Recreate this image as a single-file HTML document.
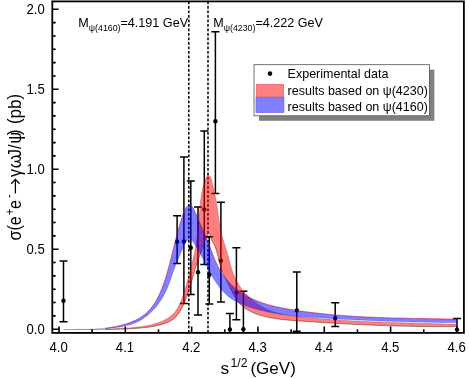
<!DOCTYPE html>
<html><head><meta charset="utf-8"><title>plot</title>
<style>html,body{margin:0;padding:0;background:#fff;}svg{display:block;}text{font-family:"Liberation Sans",sans-serif;fill:#000;}</style></head><body>
<svg width="469" height="379" viewBox="0 0 469 379" style="will-change:transform">
<rect x="0" y="0" width="469" height="379" fill="#fff"/>
<line x1="188.8" y1="1.4" x2="188.8" y2="332.9" stroke="#000" stroke-width="1.5" stroke-dasharray="2.9 1.6"/>
<line x1="208.0" y1="1.4" x2="208.0" y2="332.9" stroke="#000" stroke-width="1.5" stroke-dasharray="2.9 1.6"/>
<g stroke="#000" stroke-width="1.5" fill="none">
<path d="M63.5 260.9V321.8M59.5 260.9H67.5M59.5 321.8H67.5"/>
<path d="M177.1 215.7V263.6M173.1 215.7H181.1M173.1 263.6H181.1"/>
<path d="M183.9 156.9V303.5M179.9 156.9H187.9M179.9 303.5H187.9"/>
<path d="M190.8 180.9V294.6M186.8 180.9H194.8M186.8 294.6H194.8"/>
<path d="M198.0 206.9V315.0M194.0 206.9H202.0M194.0 315.0H202.0"/>
<path d="M204.3 131.0V264.4M200.3 131.0H208.3M200.3 264.4H208.3"/>
<path d="M209.3 236.8V303.9M205.3 236.8H213.3M205.3 303.9H213.3"/>
<path d="M215.4 31.7V193.4M211.4 31.7H219.4M211.4 193.4H219.4"/>
<path d="M220.9 202.3V302.1M216.9 202.3H224.9M216.9 302.1H224.9"/>
<path d="M229.9 313.4V332.9M225.9 313.4H233.9"/>
<path d="M236.4 247.8V319.7M232.4 247.8H240.4M232.4 319.7H240.4"/>
<path d="M243.4 291.3V332.9M239.4 291.3H247.4"/>
<path d="M296.8 272.0V331.3M292.8 272.0H300.8M292.8 331.3H300.8"/>
<path d="M335.2 302.7V326.5M331.2 302.7H339.2M331.2 326.5H339.2"/>
<path d="M457.0 318.4V332.9M453.0 318.4H461.0"/>
</g>
<g fill="#000">
<circle cx="63.5" cy="300.8" r="2.2"/>
<circle cx="177.1" cy="241.8" r="2.2"/>
<circle cx="183.9" cy="241.4" r="2.2"/>
<circle cx="190.8" cy="247.7" r="2.2"/>
<circle cx="198.0" cy="272.3" r="2.2"/>
<circle cx="204.3" cy="209.4" r="2.2"/>
<circle cx="209.3" cy="274.8" r="2.2"/>
<circle cx="215.4" cy="121.3" r="2.2"/>
<circle cx="220.9" cy="260.8" r="2.2"/>
<circle cx="229.9" cy="329.4" r="2.2"/>
<circle cx="236.4" cy="292.6" r="2.2"/>
<circle cx="243.4" cy="329.3" r="2.2"/>
<circle cx="296.8" cy="310.4" r="2.2"/>
<circle cx="335.2" cy="318.3" r="2.2"/>
<circle cx="457.0" cy="329.6" r="2.2"/>
</g>
<path d="M63.8 329.55L85 329.45L104 329.2" fill="none" stroke="#e02040" stroke-opacity="0.8" stroke-width="0.7"/>
<path d="M105.3 329.5L107.6 329.4L110.0 329.4L110.0 329.4L112.3 329.3L114.6 329.3L116.9 329.2L119.2 329.2L121.5 329.1L123.8 329.0L124.9 328.9L126.1 328.9L128.4 328.8L130.7 328.7L133.0 328.5L135.3 328.4L137.6 328.2L137.7 328.2L139.9 328.0L142.2 327.8L144.5 327.6L146.8 327.4L147.8 327.2L149.0 327.1L151.3 326.8L153.6 326.4L154.0 326.3L155.9 325.9L158.1 325.4L160.1 325.0L160.4 324.9L162.7 324.2L164.9 323.5L165.7 323.2L167.0 322.7L169.1 321.7L169.5 321.5L171.1 320.6L173.0 319.4L174.2 318.5L174.8 318.0L176.4 316.4L177.8 314.6L178.0 314.4L179.2 312.8L180.4 310.8L180.8 310.0L181.5 308.8L182.6 306.7L183.6 304.6L183.7 304.2L184.5 302.4L185.4 300.2L185.7 299.5L186.2 298.1L187.0 295.9L187.6 294.3L187.8 293.7L188.5 291.5L189.0 289.9L189.2 289.3L189.9 287.1L190.5 284.9L191.2 282.7L191.7 281.0L191.8 280.5L192.5 278.3L193.1 276.1L193.7 273.9L194.4 271.7L194.8 270.0L195.0 269.5L195.7 267.3L196.4 265.1L197.1 262.9L197.4 262.0L197.8 260.7L198.6 258.6L199.4 256.4L199.5 256.1L200.2 254.2L201.0 252.1L201.8 250.0L201.8 249.9L202.6 247.7L203.4 245.5L203.6 244.8L204.2 243.2L204.9 241.0L205.3 239.8L205.7 238.8L206.5 236.6L207.2 234.9L207.3 234.5L208.3 233.1L208.4 233.0L209.3 233.6L209.7 234.5L210.2 235.7L210.9 238.2L211.6 240.1L211.9 240.6L213.0 242.6L213.3 243.1L214.1 244.5L215.1 246.6L215.2 246.9L215.9 248.7L216.6 250.9L217.2 253.1L217.8 255.4L217.9 255.8L218.4 257.7L218.9 260.0L219.5 262.3L220.1 264.5L220.4 265.5L220.8 266.7L221.5 268.9L222.3 271.0L222.8 272.3L223.1 273.1L224.0 275.2L225.0 277.2L225.9 279.3L226.2 279.8L226.9 281.3L228.0 283.4L229.0 285.5L229.5 286.6L230.0 287.6L231.1 289.7L232.1 291.8L232.7 293.0L233.2 293.9L234.4 296.0L235.6 298.0L235.8 298.4L236.9 300.0L238.2 301.8L239.4 303.2L239.7 303.6L241.3 305.2L243.0 306.7L244.8 308.0L244.9 308.1L246.7 309.3L248.7 310.4L250.7 311.5L251.8 312.0L252.8 312.5L254.9 313.4L257.1 314.2L259.1 314.9L259.2 314.9L261.4 315.6L263.6 316.2L265.9 316.8L268.1 317.3L269.6 317.6L270.4 317.7L272.6 318.1L274.9 318.5L277.2 318.9L279.0 319.1L279.5 319.2L281.7 319.4L284.0 319.7L286.4 319.9L288.7 320.1L291.0 320.3L293.3 320.5L295.6 320.7L297.0 320.8L297.9 320.8L300.2 321.0L302.5 321.2L304.8 321.3L307.1 321.5L309.5 321.7L311.8 321.8L313.2 321.9L314.1 322.0L316.4 322.1L318.7 322.3L321.0 322.4L323.3 322.6L325.6 322.7L327.9 322.9L330.2 323.0L332.5 323.1L334.8 323.3L334.8 323.3L337.1 323.4L339.4 323.5L341.7 323.7L342.0 323.7L344.0 323.8L346.3 323.9L348.6 324.0L350.9 324.2L353.2 324.3L355.5 324.4L357.8 324.5L360.1 324.6L362.4 324.7L364.7 324.8L367.0 324.9L369.4 325.0L371.7 325.1L374.0 325.2L375.0 325.2L376.3 325.3L378.6 325.4L380.9 325.5L383.2 325.5L385.5 325.6L387.8 325.7L390.1 325.8L392.4 325.8L394.7 325.9L397.0 326.0L399.3 326.0L401.6 326.1L403.9 326.1L406.2 326.2L408.5 326.2L410.8 326.3L413.1 326.3L415.4 326.4L417.7 326.4L419.9 326.4L420.0 326.4L422.3 326.5L424.6 326.5L427.0 326.5L429.3 326.5L431.6 326.6L433.9 326.6L436.2 326.6L438.5 326.6L440.8 326.6L443.1 326.6L445.4 326.6L447.8 326.6L450.1 326.6L452.4 326.6L454.7 326.5L457.0 326.5" fill="none" stroke="#000" stroke-opacity="0.75" stroke-width="0.6"/>
<path d="M105.1 329.1L107.8 329.1L110.0 329.0L110.5 329.0L113.3 328.9L116.0 328.8L118.8 328.6L121.5 328.5L124.2 328.3L124.9 328.3L127.0 328.1L129.7 327.9L132.5 327.6L135.2 327.3L137.7 327.0L138.0 327.0L140.7 326.7L143.5 326.3L146.2 325.8L147.9 325.5L148.9 325.3L151.6 324.7L154.1 324.1L154.2 324.0L156.9 323.2L159.4 322.3L160.1 322.1L162.0 321.3L164.4 320.2L164.6 320.1L166.8 318.8L169.1 317.4L169.3 317.3L171.3 315.7L173.3 313.8L173.3 313.8L175.1 311.7L176.3 310.1L176.7 309.5L178.1 307.1L179.1 305.2L179.4 304.6L180.6 302.1L181.3 300.3L181.6 299.6L182.6 297.0L183.1 295.6L183.5 294.4L184.3 291.8L184.9 290.0L185.1 289.2L185.9 286.6L186.6 283.9L186.8 283.0L187.3 281.3L188.1 278.6L188.3 277.9L188.8 276.0L189.5 273.3L190.2 270.6L190.4 270.0L190.9 268.0L191.6 265.3L192.3 262.6L192.4 262.0L192.9 259.9L193.5 257.3L194.1 254.6L194.3 253.9L194.7 251.9L195.2 249.2L195.7 246.5L195.9 244.8L196.1 243.8L196.5 241.1L196.9 238.4L197.3 236.0L197.3 235.7L197.6 233.0L198.0 230.2L198.1 228.6L198.2 227.5L198.5 224.8L198.8 222.0L198.8 221.1L199.0 219.3L199.2 216.5L199.4 213.7L199.4 213.7L199.7 211.0L199.9 208.2L200.1 206.2L200.1 205.5L200.4 202.7L200.7 200.0L200.8 199.9L201.1 197.2L201.5 194.5L201.6 194.3L202.0 191.8L202.6 189.2L202.6 189.0L203.2 186.5L204.0 183.9L204.0 183.9L204.8 181.3L205.6 179.2L205.8 178.7L206.8 176.2L206.9 176.1L207.5 175.1L207.9 174.8L208.4 174.8L208.5 174.9L209.7 175.9L210.4 176.9L211.4 179.4L211.5 179.7L212.2 182.4L212.5 183.9L212.8 185.0L213.4 187.7L214.0 190.3L214.6 193.0L214.8 194.3L215.1 195.7L215.7 198.4L216.2 201.0L216.2 201.1L216.6 203.8L217.1 206.6L217.5 209.3L217.7 210.6L217.9 212.0L218.2 214.8L218.6 217.5L219.0 220.2L219.2 221.2L219.4 223.0L219.9 225.7L220.4 228.4L220.9 231.1L221.0 231.7L221.5 233.7L222.1 236.4L222.2 236.4L222.9 239.0L223.7 241.6L224.4 243.8L224.5 244.2L225.3 246.8L226.2 249.4L227.0 252.0L227.3 253.1L227.7 254.7L228.5 257.4L229.2 260.1L229.9 262.8L230.2 263.8L230.6 265.5L231.4 268.2L232.2 270.8L233.1 273.2L233.2 273.4L234.2 275.9L235.3 278.4L236.5 280.8L236.5 280.9L237.9 283.2L239.3 285.5L240.8 287.7L240.9 287.9L242.4 289.9L244.2 292.0L245.9 294.0L246.0 294.1L247.9 296.0L249.2 297.3L249.9 297.9L252.0 299.7L253.6 301.0L254.1 301.5L256.4 303.1L258.7 304.7L258.8 304.8L261.0 306.2L263.5 307.5L264.3 308.0L265.9 308.8L268.5 310.0L271.0 311.0L273.0 311.7L273.6 312.0L276.2 312.8L278.8 313.5L279.3 313.6L281.5 314.1L284.1 314.6L286.8 315.1L289.5 315.5L292.2 315.9L294.9 316.2L296.9 316.5L297.7 316.5L300.4 316.8L303.1 317.1L305.8 317.4L308.6 317.7L311.3 317.9L313.1 318.1L314.1 318.2L316.8 318.4L319.6 318.7L322.3 318.9L325.1 319.1L327.8 319.3L330.6 319.5L333.3 319.7L334.8 319.8L336.1 319.9L338.8 320.0L341.6 320.2L342.0 320.3L344.3 320.4L347.1 320.6L349.8 320.7L352.6 320.9L355.3 321.0L358.1 321.1L360.8 321.3L363.6 321.4L366.3 321.5L369.1 321.7L371.8 321.8L374.5 321.9L375.0 321.9L377.3 322.0L380.0 322.1L382.8 322.2L385.5 322.3L388.3 322.4L391.0 322.5L393.8 322.6L396.5 322.7L399.3 322.7L402.0 322.8L404.7 322.9L407.5 323.0L410.2 323.1L413.0 323.1L415.7 323.2L418.5 323.3L420.0 323.3L421.2 323.3L424.0 323.4L426.7 323.5L429.5 323.5L432.2 323.6L435.0 323.7L437.7 323.7L440.5 323.8L443.2 323.9L446.0 323.9L448.7 324.0L451.5 324.1L454.3 324.1L457.0 324.2" fill="none" stroke="#000" stroke-opacity="0.5" stroke-width="0.45"/>
<path d="M63.8 329.5L66.6 329.5L69.3 329.4L72.1 329.4L74.8 329.4L77.6 329.4L80.3 329.4L83.1 329.4L85.9 329.4L88.6 329.3L91.3 329.3L94.1 329.3L95.0 329.3L96.8 329.3L99.6 329.3L102.3 329.2L105.1 329.1L107.8 329.1L110.0 329.0L110.5 329.0L113.3 328.9L116.0 328.8L118.8 328.6L121.5 328.5L124.2 328.3L124.9 328.3L127.0 328.1L129.7 327.9L132.5 327.6L135.2 327.3L137.7 327.0L138.0 327.0L140.7 326.7L143.5 326.3L146.2 325.8L147.9 325.5L148.9 325.3L151.6 324.7L154.1 324.1L154.2 324.0L156.9 323.2L159.4 322.3L160.1 322.1L162.0 321.3L164.4 320.2L164.6 320.1L166.8 318.8L169.1 317.4L169.3 317.3L171.3 315.7L173.3 313.8L173.3 313.8L175.1 311.7L176.3 310.1L176.7 309.5L178.1 307.1L179.1 305.2L179.4 304.6L180.6 302.1L181.3 300.3L181.6 299.6L182.6 297.0L183.1 295.6L183.5 294.4L184.3 291.8L184.9 290.0L185.1 289.2L185.9 286.6L186.6 283.9L186.8 283.0L187.3 281.3L188.1 278.6L188.3 277.9L188.8 276.0L189.5 273.3L190.2 270.6L190.4 270.0L190.9 268.0L191.6 265.3L192.3 262.6L192.4 262.0L192.9 259.9L193.5 257.3L194.1 254.6L194.3 253.9L194.7 251.9L195.2 249.2L195.7 246.5L195.9 244.8L196.1 243.8L196.5 241.1L196.9 238.4L197.3 236.0L197.3 235.7L197.6 233.0L198.0 230.2L198.1 228.6L198.2 227.5L198.5 224.8L198.8 222.0L198.8 221.1L199.0 219.3L199.2 216.5L199.4 213.7L199.4 213.7L199.7 211.0L199.9 208.2L200.1 206.2L200.1 205.5L200.4 202.7L200.7 200.0L200.8 199.9L201.1 197.2L201.5 194.5L201.6 194.3L202.0 191.8L202.6 189.2L202.6 189.0L203.2 186.5L204.0 183.9L204.0 183.9L204.8 181.3L205.6 179.2L205.8 178.7L206.8 176.2L206.9 176.1L207.5 175.1L207.9 174.8L208.4 174.8L208.5 174.9L209.7 175.9L210.4 176.9L211.4 179.4L211.5 179.7L212.2 182.4L212.5 183.9L212.8 185.0L213.4 187.7L214.0 190.3L214.6 193.0L214.8 194.3L215.1 195.7L215.7 198.4L216.2 201.0L216.2 201.1L216.6 203.8L217.1 206.6L217.5 209.3L217.7 210.6L217.9 212.0L218.2 214.8L218.6 217.5L219.0 220.2L219.2 221.2L219.4 223.0L219.9 225.7L220.4 228.4L220.9 231.1L221.0 231.7L221.5 233.7L222.1 236.4L222.2 236.4L222.9 239.0L223.7 241.6L224.4 243.8L224.5 244.2L225.3 246.8L226.2 249.4L227.0 252.0L227.3 253.1L227.7 254.7L228.5 257.4L229.2 260.1L229.9 262.8L230.2 263.8L230.6 265.5L231.4 268.2L232.2 270.8L233.1 273.2L233.2 273.4L234.2 275.9L235.3 278.4L236.5 280.8L236.5 280.9L237.9 283.2L239.3 285.5L240.8 287.7L240.9 287.9L242.4 289.9L244.2 292.0L245.9 294.0L246.0 294.1L247.9 296.0L249.2 297.3L249.9 297.9L252.0 299.7L253.6 301.0L254.1 301.5L256.4 303.1L258.7 304.7L258.8 304.8L261.0 306.2L263.5 307.5L264.3 308.0L265.9 308.8L268.5 310.0L271.0 311.0L273.0 311.7L273.6 312.0L276.2 312.8L278.8 313.5L279.3 313.6L281.5 314.1L284.1 314.6L286.8 315.1L289.5 315.5L292.2 315.9L294.9 316.2L296.9 316.5L297.7 316.5L300.4 316.8L303.1 317.1L305.8 317.4L308.6 317.7L311.3 317.9L313.1 318.1L314.1 318.2L316.8 318.4L319.6 318.7L322.3 318.9L325.1 319.1L327.8 319.3L330.6 319.5L333.3 319.7L334.8 319.8L336.1 319.9L338.8 320.0L341.6 320.2L342.0 320.3L344.3 320.4L347.1 320.6L349.8 320.7L352.6 320.9L355.3 321.0L358.1 321.1L360.8 321.3L363.6 321.4L366.3 321.5L369.1 321.7L371.8 321.8L374.5 321.9L375.0 321.9L377.3 322.0L380.0 322.1L382.8 322.2L385.5 322.3L388.3 322.4L391.0 322.5L393.8 322.6L396.5 322.7L399.3 322.7L402.0 322.8L404.7 322.9L407.5 323.0L410.2 323.1L413.0 323.1L415.7 323.2L418.5 323.3L420.0 323.3L421.2 323.3L424.0 323.4L426.7 323.5L429.5 323.5L432.2 323.6L435.0 323.7L437.7 323.7L440.5 323.8L443.2 323.9L446.0 323.9L448.7 324.0L451.5 324.1L454.3 324.1L457.0 324.2L457.0 326.5L454.7 326.5L452.4 326.6L450.1 326.6L447.8 326.6L445.4 326.6L443.1 326.6L440.8 326.6L438.5 326.6L436.2 326.6L433.9 326.6L431.6 326.6L429.3 326.5L427.0 326.5L424.6 326.5L422.3 326.5L420.0 326.4L419.9 326.4L417.7 326.4L415.4 326.4L413.1 326.3L410.8 326.3L408.5 326.2L406.2 326.2L403.9 326.1L401.6 326.1L399.3 326.0L397.0 326.0L394.7 325.9L392.4 325.8L390.1 325.8L387.8 325.7L385.5 325.6L383.2 325.5L380.9 325.5L378.6 325.4L376.3 325.3L375.0 325.2L374.0 325.2L371.7 325.1L369.4 325.0L367.0 324.9L364.7 324.8L362.4 324.7L360.1 324.6L357.8 324.5L355.5 324.4L353.2 324.3L350.9 324.2L348.6 324.0L346.3 323.9L344.0 323.8L342.0 323.7L341.7 323.7L339.4 323.5L337.1 323.4L334.8 323.3L334.8 323.3L332.5 323.1L330.2 323.0L327.9 322.9L325.6 322.7L323.3 322.6L321.0 322.4L318.7 322.3L316.4 322.1L314.1 322.0L313.2 321.9L311.8 321.8L309.5 321.7L307.1 321.5L304.8 321.3L302.5 321.2L300.2 321.0L297.9 320.8L297.0 320.8L295.6 320.7L293.3 320.5L291.0 320.3L288.7 320.1L286.4 319.9L284.0 319.7L281.7 319.4L279.5 319.2L279.0 319.1L277.2 318.9L274.9 318.5L272.6 318.1L270.4 317.7L269.6 317.6L268.1 317.3L265.9 316.8L263.6 316.2L261.4 315.6L259.2 314.9L259.1 314.9L257.1 314.2L254.9 313.4L252.8 312.5L251.8 312.0L250.7 311.5L248.7 310.4L246.7 309.3L244.9 308.1L244.8 308.0L243.0 306.7L241.3 305.2L239.7 303.6L239.4 303.2L238.2 301.8L236.9 300.0L235.8 298.4L235.6 298.0L234.4 296.0L233.2 293.9L232.7 293.0L232.1 291.8L231.1 289.7L230.0 287.6L229.5 286.6L229.0 285.5L228.0 283.4L226.9 281.3L226.2 279.8L225.9 279.3L225.0 277.2L224.0 275.2L223.1 273.1L222.8 272.3L222.3 271.0L221.5 268.9L220.8 266.7L220.4 265.5L220.1 264.5L219.5 262.3L218.9 260.0L218.4 257.7L217.9 255.8L217.8 255.4L217.2 253.1L216.6 250.9L215.9 248.7L215.2 246.9L215.1 246.6L214.1 244.5L213.3 243.1L213.0 242.6L211.9 240.6L211.6 240.1L210.9 238.2L210.2 235.7L209.7 234.5L209.3 233.6L208.4 233.0L208.3 233.1L207.3 234.5L207.2 234.9L206.5 236.6L205.7 238.8L205.3 239.8L204.9 241.0L204.2 243.2L203.6 244.8L203.4 245.5L202.6 247.7L201.8 249.9L201.8 250.0L201.0 252.1L200.2 254.2L199.5 256.1L199.4 256.4L198.6 258.6L197.8 260.7L197.4 262.0L197.1 262.9L196.4 265.1L195.7 267.3L195.0 269.5L194.8 270.0L194.4 271.7L193.7 273.9L193.1 276.1L192.5 278.3L191.8 280.5L191.7 281.0L191.2 282.7L190.5 284.9L189.9 287.1L189.2 289.3L189.0 289.9L188.5 291.5L187.8 293.7L187.6 294.3L187.0 295.9L186.2 298.1L185.7 299.5L185.4 300.2L184.5 302.4L183.7 304.2L183.6 304.6L182.6 306.7L181.5 308.8L180.8 310.0L180.4 310.8L179.2 312.8L178.0 314.4L177.8 314.6L176.4 316.4L174.8 318.0L174.2 318.5L173.0 319.4L171.1 320.6L169.5 321.5L169.1 321.7L167.0 322.7L165.7 323.2L164.9 323.5L162.7 324.2L160.4 324.9L160.1 325.0L158.1 325.4L155.9 325.9L154.0 326.3L153.6 326.4L151.3 326.8L149.0 327.1L147.8 327.2L146.8 327.4L144.5 327.6L142.2 327.8L139.9 328.0L137.7 328.2L137.6 328.2L135.3 328.4L133.0 328.5L130.7 328.7L128.4 328.8L126.1 328.9L124.9 328.9L123.8 329.0L121.5 329.1L119.2 329.2L116.9 329.2L114.6 329.3L112.3 329.3L110.0 329.4L110.0 329.4L107.6 329.4L105.3 329.5L103.0 329.5L100.7 329.5L98.4 329.5L96.1 329.5L95.0 329.5L93.8 329.5L91.5 329.5L89.2 329.5L86.8 329.5L84.5 329.5L82.2 329.5L79.9 329.5L77.6 329.5L75.3 329.5L73.0 329.6L70.7 329.6L68.4 329.6L66.1 329.6L63.8 329.6Z" fill="#ff0000" fill-opacity="0.5" stroke="none"/>
<path d="M104.6 328.2L107.0 327.9L109.4 327.6L109.9 327.5L111.8 327.2L114.1 326.8L116.5 326.4L117.9 326.1L118.9 325.8L121.3 325.2L123.7 324.6L126.0 323.9L126.1 323.9L128.4 323.1L130.7 322.2L133.0 321.3L135.2 320.3L135.8 320.0L137.4 319.2L139.5 318.0L141.5 316.7L143.5 315.3L145.3 313.9L145.4 313.9L147.1 312.3L148.8 310.6L150.4 308.9L151.6 307.4L151.8 307.1L153.2 305.2L154.6 303.2L155.8 301.2L156.1 300.7L157.0 299.1L157.8 297.6L158.1 297.0L159.2 294.8L159.5 294.0L160.2 292.6L161.1 290.3L161.8 288.7L162.0 288.0L162.9 285.7L163.7 283.4L164.5 281.1L164.9 280.1L165.3 278.8L166.0 276.5L166.7 274.2L167.4 271.8L167.5 271.5L168.0 269.5L168.7 267.2L169.3 264.9L169.4 264.7L169.9 262.6L170.5 260.3L170.5 260.3L171.1 257.9L171.7 255.6L172.3 253.3L172.8 251.0L173.4 248.7L173.7 247.4L174.0 246.4L174.6 244.0L175.1 241.7L175.7 239.4L176.3 237.1L176.7 235.8L176.9 234.8L177.6 232.4L178.2 230.1L178.9 227.8L179.5 225.4L179.8 224.4L180.2 223.1L181.0 220.8L181.7 218.4L182.5 216.1L183.3 213.8L183.3 213.7L184.2 211.4L185.2 209.2L185.7 208.3L186.4 207.2L187.6 205.9L188.0 205.6L188.7 205.1L189.5 204.7L189.9 204.6L190.3 204.7L191.4 205.6L191.7 206.0L193.1 208.1L193.4 208.6L194.3 210.3L195.3 212.4L195.9 213.8L196.3 214.6L197.2 216.8L198.2 219.0L199.2 221.2L199.6 222.2L200.1 223.5L201.1 225.7L202.1 227.9L202.9 229.6L203.1 230.1L204.0 232.3L205.0 234.5L205.5 235.9L205.9 236.7L206.8 239.0L207.2 240.0L207.7 241.2L208.6 243.4L209.5 245.6L209.8 246.5L210.4 247.9L211.2 250.2L212.1 252.4L212.9 254.7L213.1 255.0L213.8 256.9L214.7 259.2L215.6 261.4L216.6 263.6L217.5 265.5L217.6 265.8L218.7 268.0L219.9 270.1L221.1 272.1L221.2 272.2L222.4 274.2L223.8 276.1L225.3 278.0L226.9 279.9L226.9 279.9L228.5 281.7L230.2 283.5L231.9 285.2L233.3 286.5L233.7 286.8L235.6 288.4L237.5 289.9L239.4 291.3L239.7 291.5L241.4 292.7L243.4 294.0L245.4 295.2L247.0 296.1L247.5 296.4L249.6 297.5L251.7 298.5L253.8 299.4L253.9 299.5L256.1 300.4L258.3 301.3L258.9 301.6L260.5 302.2L262.8 303.0L265.1 303.7L267.4 304.4L269.5 305.0L269.7 305.0L272.0 305.7L274.3 306.3L276.7 306.8L277.9 307.1L279.1 307.3L281.4 307.8L283.8 308.3L286.2 308.7L288.6 309.1L291.0 309.5L293.4 309.9L295.8 310.3L296.9 310.5L298.2 310.7L300.6 311.0L303.0 311.3L305.5 311.7L307.9 312.0L310.3 312.3L312.7 312.6L313.3 312.6L315.1 312.9L317.5 313.1L319.9 313.4L322.3 313.6L324.7 313.9L327.1 314.1L329.5 314.4L331.9 314.6L334.3 314.8L334.9 314.9L336.7 315.0L339.1 315.2L341.5 315.4L342.1 315.4L343.8 315.6L346.2 315.7L348.6 315.9L351.0 316.1L353.4 316.2L355.8 316.4L358.2 316.5L360.6 316.6L363.0 316.8L365.4 316.9L367.8 317.0L370.2 317.1L372.6 317.2L375.0 317.3L375.0 317.3L377.4 317.4L379.8 317.5L382.2 317.6L384.6 317.7L387.0 317.7L389.4 317.8L391.8 317.9L394.2 318.0L396.6 318.0L399.0 318.1L401.4 318.1L403.8 318.2L406.3 318.2L408.7 318.3L411.1 318.3L413.5 318.4L415.9 318.4L418.3 318.5L419.9 318.5L420.7 318.5L423.1 318.6L425.5 318.6L428.0 318.6L430.4 318.7L432.8 318.7L435.2 318.8L437.6 318.8L440.1 318.8L442.5 318.9L444.9 318.9L447.3 319.0L449.8 319.0L452.2 319.1L454.6 319.1L457.1 319.1" fill="none" stroke="#f00" stroke-opacity="0.8" stroke-width="0.65"/>
<path d="M105.1 328.7L107.3 328.5L109.4 328.3L109.9 328.3L111.6 328.1L113.8 327.9L116.0 327.6L118.0 327.3L118.2 327.3L120.4 327.0L122.6 326.6L124.8 326.1L126.1 325.8L126.9 325.6L129.0 325.0L131.1 324.4L133.2 323.7L135.2 322.9L135.7 322.7L137.1 322.0L139.1 321.0L140.9 320.0L142.8 318.9L144.5 317.6L144.8 317.4L146.3 316.4L148.0 315.0L149.6 313.6L151.2 312.1L152.3 311.0L152.7 310.6L154.2 309.0L155.6 307.4L157.0 305.7L158.4 303.9L158.5 303.7L159.6 302.1L160.9 300.3L162.0 298.5L162.5 297.6L163.1 296.6L164.2 294.6L165.2 292.7L166.2 290.7L166.3 290.4L167.1 288.7L167.9 286.7L168.7 284.6L169.4 282.9L169.5 282.6L170.2 280.5L170.9 278.5L171.6 276.4L172.0 275.2L172.3 274.4L173.0 272.3L173.8 270.3L174.5 268.2L174.7 267.6L175.2 266.2L176.0 264.3L176.8 262.3L176.9 262.2L177.7 260.3L178.5 258.3L179.4 256.3L180.2 254.3L180.3 254.1L181.1 252.3L182.0 250.2L182.8 248.1L183.1 247.3L183.7 245.9L184.6 243.8L185.8 241.9L185.8 241.9L187.3 240.4L188.0 240.0L189.2 239.5L189.9 239.5L191.0 239.8L191.4 240.1L192.5 241.1L193.3 242.3L193.8 242.9L195.0 244.8L196.2 246.6L196.2 246.7L197.3 248.5L198.5 250.4L199.5 252.3L200.2 253.5L200.6 254.2L201.6 256.1L202.6 258.1L203.6 260.0L203.8 260.4L204.6 261.9L205.6 263.8L206.5 265.8L207.5 267.7L207.6 267.9L208.5 269.6L209.5 271.5L210.6 273.4L211.3 274.7L211.6 275.3L212.7 277.2L213.8 279.1L214.8 280.6L215.0 281.0L216.2 282.8L217.5 284.6L218.8 286.4L219.1 286.8L220.2 288.2L221.6 289.9L223.0 291.5L224.5 293.1L224.6 293.1L226.1 294.6L227.8 296.0L229.5 297.4L230.0 297.8L231.2 298.7L233.1 299.8L234.9 300.9L236.2 301.6L236.9 301.9L238.8 302.9L240.8 303.8L242.8 304.6L244.4 305.2L244.8 305.4L246.9 306.1L248.9 306.9L251.0 307.6L253.0 308.2L253.9 308.5L255.1 308.8L257.2 309.4L259.3 310.0L261.4 310.5L263.5 311.0L264.4 311.2L265.6 311.5L267.7 312.0L269.9 312.4L272.0 312.8L272.7 312.9L274.1 313.2L276.3 313.5L278.4 313.9L279.0 314.0L280.6 314.2L282.7 314.5L284.9 314.8L287.1 315.0L289.2 315.3L291.4 315.5L293.6 315.8L295.8 316.0L296.9 316.1L298.0 316.2L300.1 316.4L302.3 316.6L304.5 316.7L306.7 316.9L308.9 317.1L311.1 317.2L313.2 317.4L313.2 317.4L315.4 317.5L317.6 317.7L319.8 317.8L322.0 318.0L324.2 318.1L326.3 318.3L328.5 318.4L330.7 318.5L332.9 318.7L334.9 318.8L335.1 318.8L337.2 318.9L339.4 319.0L341.6 319.2L342.1 319.2L343.8 319.3L345.9 319.4L348.1 319.5L350.3 319.6L352.5 319.7L354.6 319.8L356.8 319.9L359.0 320.0L361.2 320.1L363.3 320.2L365.5 320.3L367.7 320.4L369.8 320.5L372.0 320.6L374.2 320.7L375.0 320.7L376.4 320.8L378.5 320.9L380.7 321.0L382.9 321.0L385.1 321.1L387.2 321.2L389.4 321.3L391.6 321.3L393.8 321.4L395.9 321.5L398.1 321.5L400.3 321.6L402.4 321.7L404.6 321.7L406.8 321.8L409.0 321.8L411.2 321.9L413.3 321.9L415.5 322.0L417.7 322.0L419.9 322.1L419.9 322.1L422.0 322.1L424.2 322.2L426.4 322.2L428.6 322.3L430.8 322.3L433.0 322.3L435.1 322.4L437.3 322.4L439.5 322.4L441.7 322.5L443.9 322.5L446.1 322.5L448.3 322.5L450.5 322.6L452.6 322.6L454.8 322.6L457.0 322.6" fill="none" stroke="#00f" stroke-opacity="0.45" stroke-width="0.5"/>
<path d="M63.8 329.5L66.2 329.5L68.7 329.4L71.1 329.4L73.6 329.4L76.0 329.3L78.4 329.3L80.1 329.3L80.8 329.3L83.2 329.3L85.6 329.2L88.0 329.2L90.4 329.1L92.7 329.0L95.1 328.9L97.5 328.8L98.0 328.8L99.9 328.6L102.2 328.4L104.6 328.2L107.0 327.9L109.4 327.6L109.9 327.5L111.8 327.2L114.1 326.8L116.5 326.4L117.9 326.1L118.9 325.8L121.3 325.2L123.7 324.6L126.0 323.9L126.1 323.9L128.4 323.1L130.7 322.2L133.0 321.3L135.2 320.3L135.8 320.0L137.4 319.2L139.5 318.0L141.5 316.7L143.5 315.3L145.3 313.9L145.4 313.9L147.1 312.3L148.8 310.6L150.4 308.9L151.6 307.4L151.8 307.1L153.2 305.2L154.6 303.2L155.8 301.2L156.1 300.7L157.0 299.1L157.8 297.6L158.1 297.0L159.2 294.8L159.5 294.0L160.2 292.6L161.1 290.3L161.8 288.7L162.0 288.0L162.9 285.7L163.7 283.4L164.5 281.1L164.9 280.1L165.3 278.8L166.0 276.5L166.7 274.2L167.4 271.8L167.5 271.5L168.0 269.5L168.7 267.2L169.3 264.9L169.4 264.7L169.9 262.6L170.5 260.3L170.5 260.3L171.1 257.9L171.7 255.6L172.3 253.3L172.8 251.0L173.4 248.7L173.7 247.4L174.0 246.4L174.6 244.0L175.1 241.7L175.7 239.4L176.3 237.1L176.7 235.8L176.9 234.8L177.6 232.4L178.2 230.1L178.9 227.8L179.5 225.4L179.8 224.4L180.2 223.1L181.0 220.8L181.7 218.4L182.5 216.1L183.3 213.8L183.3 213.7L184.2 211.4L185.2 209.2L185.7 208.3L186.4 207.2L187.6 205.9L188.0 205.6L188.7 205.1L189.5 204.7L189.9 204.6L190.3 204.7L191.4 205.6L191.7 206.0L193.1 208.1L193.4 208.6L194.3 210.3L195.3 212.4L195.9 213.8L196.3 214.6L197.2 216.8L198.2 219.0L199.2 221.2L199.6 222.2L200.1 223.5L201.1 225.7L202.1 227.9L202.9 229.6L203.1 230.1L204.0 232.3L205.0 234.5L205.5 235.9L205.9 236.7L206.8 239.0L207.2 240.0L207.7 241.2L208.6 243.4L209.5 245.6L209.8 246.5L210.4 247.9L211.2 250.2L212.1 252.4L212.9 254.7L213.1 255.0L213.8 256.9L214.7 259.2L215.6 261.4L216.6 263.6L217.5 265.5L217.6 265.8L218.7 268.0L219.9 270.1L221.1 272.1L221.2 272.2L222.4 274.2L223.8 276.1L225.3 278.0L226.9 279.9L226.9 279.9L228.5 281.7L230.2 283.5L231.9 285.2L233.3 286.5L233.7 286.8L235.6 288.4L237.5 289.9L239.4 291.3L239.7 291.5L241.4 292.7L243.4 294.0L245.4 295.2L247.0 296.1L247.5 296.4L249.6 297.5L251.7 298.5L253.8 299.4L253.9 299.5L256.1 300.4L258.3 301.3L258.9 301.6L260.5 302.2L262.8 303.0L265.1 303.7L267.4 304.4L269.5 305.0L269.7 305.0L272.0 305.7L274.3 306.3L276.7 306.8L277.9 307.1L279.1 307.3L281.4 307.8L283.8 308.3L286.2 308.7L288.6 309.1L291.0 309.5L293.4 309.9L295.8 310.3L296.9 310.5L298.2 310.7L300.6 311.0L303.0 311.3L305.5 311.7L307.9 312.0L310.3 312.3L312.7 312.6L313.3 312.6L315.1 312.9L317.5 313.1L319.9 313.4L322.3 313.6L324.7 313.9L327.1 314.1L329.5 314.4L331.9 314.6L334.3 314.8L334.9 314.9L336.7 315.0L339.1 315.2L341.5 315.4L342.1 315.4L343.8 315.6L346.2 315.7L348.6 315.9L351.0 316.1L353.4 316.2L355.8 316.4L358.2 316.5L360.6 316.6L363.0 316.8L365.4 316.9L367.8 317.0L370.2 317.1L372.6 317.2L375.0 317.3L375.0 317.3L377.4 317.4L379.8 317.5L382.2 317.6L384.6 317.7L387.0 317.7L389.4 317.8L391.8 317.9L394.2 318.0L396.6 318.0L399.0 318.1L401.4 318.1L403.8 318.2L406.3 318.2L408.7 318.3L411.1 318.3L413.5 318.4L415.9 318.4L418.3 318.5L419.9 318.5L420.7 318.5L423.1 318.6L425.5 318.6L428.0 318.6L430.4 318.7L432.8 318.7L435.2 318.8L437.6 318.8L440.1 318.8L442.5 318.9L444.9 318.9L447.3 319.0L449.8 319.0L452.2 319.1L454.6 319.1L457.1 319.1L457.0 322.6L454.8 322.6L452.6 322.6L450.5 322.6L448.3 322.5L446.1 322.5L443.9 322.5L441.7 322.5L439.5 322.4L437.3 322.4L435.1 322.4L433.0 322.3L430.8 322.3L428.6 322.3L426.4 322.2L424.2 322.2L422.0 322.1L419.9 322.1L419.9 322.1L417.7 322.0L415.5 322.0L413.3 321.9L411.2 321.9L409.0 321.8L406.8 321.8L404.6 321.7L402.4 321.7L400.3 321.6L398.1 321.5L395.9 321.5L393.8 321.4L391.6 321.3L389.4 321.3L387.2 321.2L385.1 321.1L382.9 321.0L380.7 321.0L378.5 320.9L376.4 320.8L375.0 320.7L374.2 320.7L372.0 320.6L369.8 320.5L367.7 320.4L365.5 320.3L363.3 320.2L361.2 320.1L359.0 320.0L356.8 319.9L354.6 319.8L352.5 319.7L350.3 319.6L348.1 319.5L345.9 319.4L343.8 319.3L342.1 319.2L341.6 319.2L339.4 319.0L337.2 318.9L335.1 318.8L334.9 318.8L332.9 318.7L330.7 318.5L328.5 318.4L326.3 318.3L324.2 318.1L322.0 318.0L319.8 317.8L317.6 317.7L315.4 317.5L313.2 317.4L313.2 317.4L311.1 317.2L308.9 317.1L306.7 316.9L304.5 316.7L302.3 316.6L300.1 316.4L298.0 316.2L296.9 316.1L295.8 316.0L293.6 315.8L291.4 315.5L289.2 315.3L287.1 315.0L284.9 314.8L282.7 314.5L280.6 314.2L279.0 314.0L278.4 313.9L276.3 313.5L274.1 313.2L272.7 312.9L272.0 312.8L269.9 312.4L267.7 312.0L265.6 311.5L264.4 311.2L263.5 311.0L261.4 310.5L259.3 310.0L257.2 309.4L255.1 308.8L253.9 308.5L253.0 308.2L251.0 307.6L248.9 306.9L246.9 306.1L244.8 305.4L244.4 305.2L242.8 304.6L240.8 303.8L238.8 302.9L236.9 301.9L236.2 301.6L234.9 300.9L233.1 299.8L231.2 298.7L230.0 297.8L229.5 297.4L227.8 296.0L226.1 294.6L224.6 293.1L224.5 293.1L223.0 291.5L221.6 289.9L220.2 288.2L219.1 286.8L218.8 286.4L217.5 284.6L216.2 282.8L215.0 281.0L214.8 280.6L213.8 279.1L212.7 277.2L211.6 275.3L211.3 274.7L210.6 273.4L209.5 271.5L208.5 269.6L207.6 267.9L207.5 267.7L206.5 265.8L205.6 263.8L204.6 261.9L203.8 260.4L203.6 260.0L202.6 258.1L201.6 256.1L200.6 254.2L200.2 253.5L199.5 252.3L198.5 250.4L197.3 248.5L196.2 246.7L196.2 246.6L195.0 244.8L193.8 242.9L193.3 242.3L192.5 241.1L191.4 240.1L191.0 239.8L189.9 239.5L189.2 239.5L188.0 240.0L187.3 240.4L185.8 241.9L185.8 241.9L184.6 243.8L183.7 245.9L183.1 247.3L182.8 248.1L182.0 250.2L181.1 252.3L180.3 254.1L180.2 254.3L179.4 256.3L178.5 258.3L177.7 260.3L176.9 262.2L176.8 262.3L176.0 264.3L175.2 266.2L174.7 267.6L174.5 268.2L173.8 270.3L173.0 272.3L172.3 274.4L172.0 275.2L171.6 276.4L170.9 278.5L170.2 280.5L169.5 282.6L169.4 282.9L168.7 284.6L167.9 286.7L167.1 288.7L166.3 290.4L166.2 290.7L165.2 292.7L164.2 294.6L163.1 296.6L162.5 297.6L162.0 298.5L160.9 300.3L159.6 302.1L158.5 303.7L158.4 303.9L157.0 305.7L155.6 307.4L154.2 309.0L152.7 310.6L152.3 311.0L151.2 312.1L149.6 313.6L148.0 315.0L146.3 316.4L144.8 317.4L144.5 317.6L142.8 318.9L140.9 320.0L139.1 321.0L137.1 322.0L135.7 322.7L135.2 322.9L133.2 323.7L131.1 324.4L129.0 325.0L126.9 325.6L126.1 325.8L124.8 326.1L122.6 326.6L120.4 327.0L118.2 327.3L118.0 327.3L116.0 327.6L113.8 327.9L111.6 328.1L109.9 328.3L109.4 328.3L107.3 328.5L105.1 328.7L102.9 328.8L100.7 329.0L98.6 329.1L97.9 329.1L96.4 329.2L94.3 329.3L92.1 329.3L89.9 329.4L87.8 329.4L85.6 329.5L83.5 329.5L81.3 329.5L80.1 329.5L79.2 329.5L77.0 329.6L74.8 329.6L72.6 329.6L70.4 329.6L68.2 329.6L66.0 329.6L63.8 329.6Z" fill="#0000ff" fill-opacity="0.5" stroke="none"/>
<rect x="52.3" y="1.4" width="411.59999999999997" height="331.5" fill="none" stroke="#000" stroke-width="1.8"/>
<g stroke="#000" stroke-width="1.6" fill="none">
<path d="M52.3 329.20h6.3M52.3 315.87h3.4M52.3 302.53h3.4M52.3 289.20h3.4M52.3 275.87h3.4M52.3 262.53h3.4M52.3 249.22h6.3M52.3 235.89h3.4M52.3 222.56h3.4M52.3 209.22h3.4M52.3 195.89h3.4M52.3 182.56h3.4M52.3 169.25h6.3M52.3 155.92h3.4M52.3 142.58h3.4M52.3 129.25h3.4M52.3 115.92h3.4M52.3 102.58h3.4M52.3 89.28h6.3M52.3 75.94h3.4M52.3 62.61h3.4M52.3 49.28h3.4M52.3 35.94h3.4M52.3 22.61h3.4M52.3 9.30h6.3M59.00 332.9v-6.3M92.16 332.9v-3.6M125.32 332.9v-6.3M158.48 332.9v-3.6M191.64 332.9v-6.3M224.80 332.9v-3.6M257.96 332.9v-6.3M291.12 332.9v-3.6M324.28 332.9v-6.3M357.44 332.9v-3.6M390.60 332.9v-6.3M423.76 332.9v-3.6M456.92 332.9v-6.3"/>
</g>
<text transform="translate(44.7 334.1) scale(0.86 1)" font-size="15.3" text-anchor="end">0.0</text>
<text transform="translate(44.7 254.1) scale(0.86 1)" font-size="15.3" text-anchor="end">0.5</text>
<text transform="translate(44.7 174.2) scale(0.86 1)" font-size="15.3" text-anchor="end">1.0</text>
<text transform="translate(44.7 94.2) scale(0.86 1)" font-size="15.3" text-anchor="end">1.5</text>
<text transform="translate(44.7 14.2) scale(0.86 1)" font-size="15.3" text-anchor="end">2.0</text>
<text transform="translate(58.7 351.6) scale(0.86 1)" font-size="15.3" text-anchor="middle">4.0</text>
<text transform="translate(125.0 351.6) scale(0.86 1)" font-size="15.3" text-anchor="middle">4.1</text>
<text transform="translate(191.3 351.6) scale(0.86 1)" font-size="15.3" text-anchor="middle">4.2</text>
<text transform="translate(257.7 351.6) scale(0.86 1)" font-size="15.3" text-anchor="middle">4.3</text>
<text transform="translate(324.0 351.6) scale(0.86 1)" font-size="15.3" text-anchor="middle">4.4</text>
<text transform="translate(390.3 351.6) scale(0.86 1)" font-size="15.3" text-anchor="middle">4.5</text>
<text transform="translate(456.6 351.6) scale(0.86 1)" font-size="15.3" text-anchor="middle">4.6</text>
<text x="220.6" y="373.7" font-size="17.4">s</text>
<text x="230.6" y="366.5" font-size="12.2">1/2</text>
<text transform="translate(250.4 373.7) scale(0.98 1)" font-size="17.4">(GeV)</text>
<g transform="translate(20.6 239.9) rotate(-90)">
<text transform="translate(-0.5 0) scale(0.9 1)" font-size="18.0">σ</text>
<text transform="translate(9.3 -1.0) scale(0.9 1)" font-size="18.0">(</text>
<text transform="translate(14.7 0) scale(0.9 1)" font-size="18.0">e</text>
<text transform="translate(25.0 -6.3) scale(0.9 1)" font-size="12.0">+</text>
<text transform="translate(31.0 0) scale(0.9 1)" font-size="18.0">e</text>
<text transform="translate(41.8 -7.6) scale(0.9 1)" font-size="12.0">-</text>
<path d="M46.3 -5.2H60.2M56.2 -9.4L60.6 -5.2L56.2 -1.0" fill="none" stroke="#000" stroke-width="1.25"/>
<text transform="translate(62.8 0) scale(0.9 1)" font-size="18.0">γ</text>
<text transform="translate(71.6 0) scale(0.96 1)" font-size="18.0">ω</text>
<text transform="translate(82.7 0) scale(0.9 1)" font-size="18.0">J/</text>
<text transform="translate(96.3 0) scale(0.9 1)" font-size="18.0">ψ</text>
<text transform="translate(105.0 -1.0) scale(0.9 1)" font-size="18.0">)</text>
<text transform="translate(115.8 -1.0) scale(0.945 1)" font-size="18.0">(</text>
<text transform="translate(121.5 0) scale(0.945 1)" font-size="18.0">pb</text>
<text transform="translate(140.4 -1.0) scale(0.945 1)" font-size="18.0">)</text>
</g>
<text x="78.3" y="27.2" font-size="12.6">M<tspan font-size="8.8" dy="4">ψ(4160)</tspan><tspan dy="-4">=4.191 GeV</tspan></text>
<text x="213.2" y="27.2" font-size="12.6">M<tspan font-size="8.8" dy="4">ψ(4230)</tspan><tspan dy="-4">=4.222 GeV</tspan></text>
<rect x="259" y="69.7" width="175.4" height="51.1" fill="#808080"/>
<rect x="254" y="64.7" width="175.4" height="51.1" fill="#fff" stroke="#505050" stroke-width="0.8"/>
<circle cx="270" cy="73.6" r="2.3" fill="#000"/>
<rect x="256.3" y="84.4" width="27.3" height="12.8" fill="#ff8080" stroke="#e86068" stroke-width="0.7"/>
<rect x="256.0" y="97.2" width="27.9" height="15.2" fill="#8080ff" stroke="#6060f0" stroke-width="0.7"/>
<text transform="translate(287.6 78.3) scale(0.978 1)" font-size="12.8" text-anchor="start">Experimental data</text>
<text transform="translate(287.6 94.7) scale(0.978 1)" font-size="12.8" text-anchor="start">results based on ψ(4230)</text>
<text transform="translate(287.6 110.9) scale(0.978 1)" font-size="12.8" text-anchor="start">results based on ψ(4160)</text>
</svg></body></html>
